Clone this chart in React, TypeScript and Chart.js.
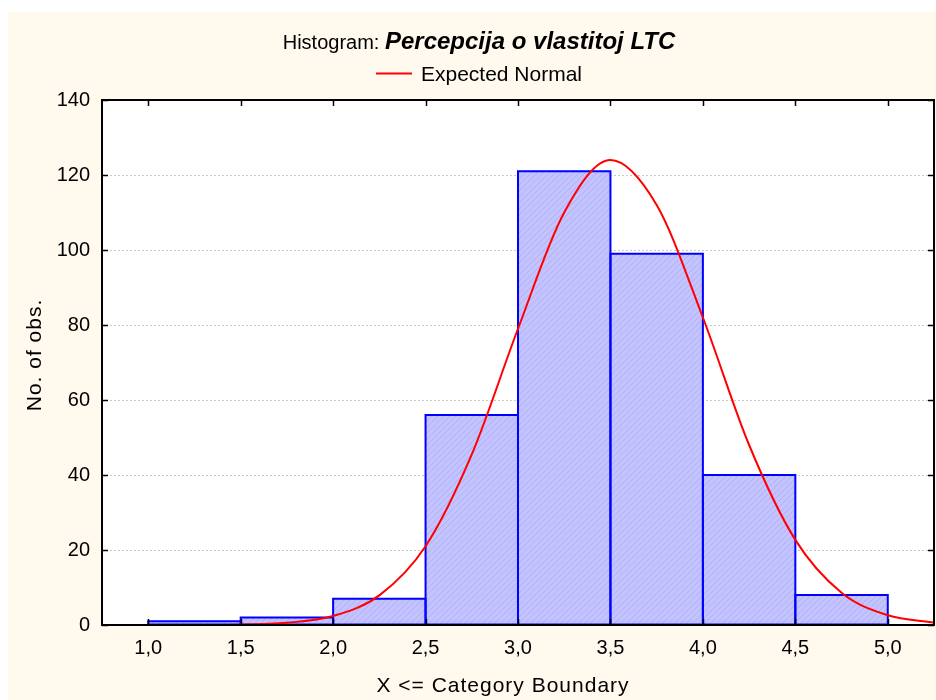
import { useEffect, useRef } from 'react';
import { Chart, registerables } from 'chart.js';

Chart.register(...registerables);

// ---- data ----
const binStarts = [1.0, 1.5, 2.0, 2.5, 3.0, 3.5, 4.0, 4.5];
const binWidth = 0.5;
const binCounts = [1, 2, 7, 56, 121, 99, 40, 8];

const curveX = [0.75, 1.0, 1.25, 1.5, 1.75, 2.0, 2.25, 2.5, 2.75, 3.0, 3.25, 3.5, 3.75, 4.0, 4.25, 4.5, 4.75, 5.0, 5.25];
const curveY = [0, 0, 0.02, 0.1, 0.6, 2.4, 7.9, 21, 45.5, 79, 110, 124, 112, 82, 48, 22.7, 8.6, 2.6, 0.65];

const xTicks = [1.0, 1.5, 2.0, 2.5, 3.0, 3.5, 4.0, 4.5, 5.0];
const yTicks = [0, 20, 40, 60, 80, 100, 120, 140];
const xMin = 0.75;
const xMax = 5.25;

const titlePrefix = 'Histogram: ';
const titleMain = 'Percepcija o vlastitoj LTC';
const legendLabel = 'Expected Normal';
const xTitle = 'X <= Category Boundary';
const yTitle = 'No. of obs.';

const FONT = '"Liberation Sans", Arial, sans-serif';
const CREAM = '#FFF9EE';

function makePattern(ctx: CanvasRenderingContext2D) {
  const c = document.createElement('canvas');
  c.width = 6;
  c.height = 6;
  const g = c.getContext('2d')!;
  g.fillStyle = '#C3C3FF';
  g.fillRect(0, 0, 6, 6);
  g.strokeStyle = '#B0B0F2';
  g.lineWidth = 1;
  g.beginPath();
  g.moveTo(0, 6); g.lineTo(6, 0);
  g.moveTo(-1, 1); g.lineTo(1, -1);
  g.moveTo(5, 7); g.lineTo(7, 5);
  g.stroke();
  return ctx.createPattern(c, 'repeat');
}

const decorPlugin = {
  id: 'decor',
  beforeDraw(chart: any) {
    const { ctx, chartArea: a, width, height } = chart;
    ctx.save();
    ctx.fillStyle = CREAM;
    ctx.fillRect(0, 0, width, height);
    ctx.fillStyle = '#FFFFFF';
    ctx.fillRect(a.left, a.top, a.right - a.left, a.bottom - a.top);
    ctx.restore();
  },
  afterDatasetDraw(chart: any, args: any) {
    if (args.index !== 1) return;
    const ctx = chart.ctx;
    ctx.save();
    ctx.strokeStyle = '#0000FF';
    ctx.lineWidth = 2;
    args.meta.data.forEach((bar: any) => {
      const p = bar.getProps(['x', 'y', 'base', 'width'], true);
      ctx.strokeRect(p.x - p.width / 2, p.y, p.width, p.base - p.y);
    });
    ctx.restore();
  },
  afterDraw(chart: any) {
    const { ctx, chartArea: a, scales } = chart;
    const xs = scales.x;
    const ys = scales.y;
    ctx.save();
    // frame
    ctx.strokeStyle = '#000000';
    ctx.lineWidth = 2;
    ctx.strokeRect(a.left, a.top, a.right - a.left, a.bottom - a.top);
    // inward ticks
    ctx.lineWidth = 1.5;
    ctx.beginPath();
    xTicks.forEach((v) => {
      const px = Math.round(xs.getPixelForValue(v)) + 0.5;
      ctx.moveTo(px, a.bottom); ctx.lineTo(px, a.bottom - 6);
      ctx.moveTo(px, a.top); ctx.lineTo(px, a.top + 6);
    });
    yTicks.forEach((v) => {
      const py = Math.round(ys.getPixelForValue(v)) + 0.5;
      ctx.moveTo(a.left, py); ctx.lineTo(a.left + 6, py);
      ctx.moveTo(a.right, py); ctx.lineTo(a.right - 6, py);
    });
    ctx.stroke();

    // title
    ctx.fillStyle = '#000000';
    ctx.textBaseline = 'alphabetic';
    ctx.textAlign = 'left';
    const f1 = `20px ${FONT}`;
    const f2 = `italic bold 24px ${FONT}`;
    ctx.font = f1;
    const w1 = ctx.measureText(titlePrefix).width;
    ctx.font = f2;
    const w2 = ctx.measureText(titleMain).width;
    const tx = 479 - 8 - (w1 + w2) / 2;
    ctx.font = f1;
    ctx.fillText(titlePrefix, tx, 36.5);
    ctx.font = f2;
    ctx.fillText(titleMain, tx + w1, 36.5);

    // legend
    ctx.font = `21px ${FONT}`;
    const lw = ctx.measureText(legendLabel).width;
    const lx = 471 - (36 + 9 + lw) / 2;
    ctx.strokeStyle = '#FF0000';
    ctx.lineWidth = 2;
    ctx.beginPath();
    ctx.moveTo(lx, 61.5);
    ctx.lineTo(lx + 36, 61.5);
    ctx.stroke();
    ctx.fillText(legendLabel, lx + 45, 69);

    // axis titles
    ctx.font = `21px ${FONT}`;
    try { (ctx as any).letterSpacing = '1px'; } catch (e) { /* ignore */ }
    ctx.textAlign = 'center';
    ctx.fillText(xTitle, 495, 680);

    ctx.translate(32.5, 343);
    ctx.rotate(-Math.PI / 2);
    ctx.fillText(yTitle, 0, 0);
    try { (ctx as any).letterSpacing = '0px'; } catch (e) { /* ignore */ }
    ctx.restore();
  },
};

export default function App() {
  const ref = useRef<HTMLCanvasElement | null>(null);

  useEffect(() => {
    const canvas = ref.current;
    if (!canvas) return;
    const ctx0 = canvas.getContext('2d')!;
    const pattern = makePattern(ctx0);

    const chart = new Chart(canvas, {
      type: 'bar',
      data: {
        datasets: [
          {
            type: 'line',
            label: legendLabel,
            data: curveX.map((x, i) => ({ x, y: curveY[i] })),
            borderColor: '#FF0000',
            borderWidth: 2,
            pointRadius: 0,
            fill: false,
            cubicInterpolationMode: 'monotone',
          } as any,
          {
            type: 'bar',
            label: 'Counts',
            data: binStarts.map((s, i) => ({ x: s + binWidth / 2, y: binCounts[i] })),
            backgroundColor: pattern as any,
            borderWidth: 0,
            barPercentage: 1,
            categoryPercentage: 1,
          } as any,
        ],
      },
      options: {
        animation: false,
        responsive: false,
        maintainAspectRatio: false,
        devicePixelRatio: 1,
        layout: { padding: { top: 88, right: 2, left: 0, bottom: 0 } },
        plugins: {
          legend: { display: false },
          title: { display: false },
          tooltip: { enabled: false },
        },
        scales: {
          x: {
            type: 'linear',
            min: xMin,
            max: xMax,
            offset: false,
            grid: { display: false, drawTicks: false },
            border: { display: false },
            afterBuildTicks: (s: any) => {
              s.ticks = xTicks.map((v) => ({ value: v }));
            },
            afterFit: (s: any) => {
              s.height = 75;
            },
            ticks: {
              autoSkip: false,
              maxRotation: 0,
              padding: 11,
              color: '#000000',
              font: { family: FONT, size: 20 },
              callback: (v: any) => Number(v).toFixed(1).replace('.', ','),
            },
          },
          y: {
            type: 'linear',
            min: 0,
            max: 140,
            grid: { color: '#C8C8C8', lineWidth: 1, drawTicks: false },
            border: { display: false, dash: [2, 2] },
            afterBuildTicks: (s: any) => {
              s.ticks = yTicks.map((v) => ({ value: v }));
            },
            afterFit: (s: any) => {
              s.width = 94;
            },
            ticks: {
              padding: 12,
              color: '#000000',
              font: { family: FONT, size: 20 },
            },
          },
        },
      },
      plugins: [decorPlugin],
    });

    return () => chart.destroy();
  }, []);

  return (
    <div style={{ position: 'absolute', left: 8, top: 12, width: 928, height: 688 }}>
      <canvas ref={ref} width={928} height={688} style={{ display: 'block', width: 928, height: 688 }} />
    </div>
  );
}
